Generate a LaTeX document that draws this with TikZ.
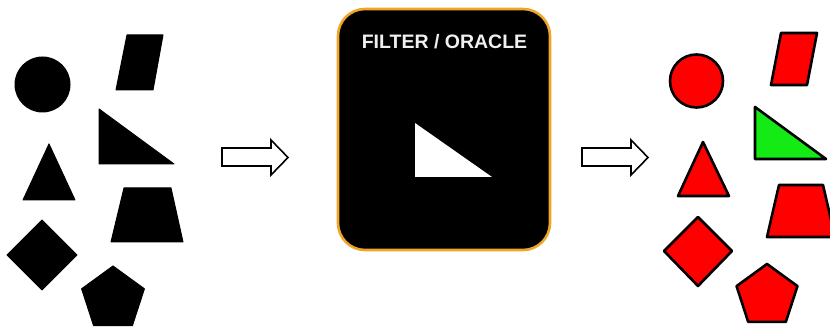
\documentclass[tikz,border=0pt]{standalone}
\usepackage{fontspec}
\setmainfont{Liberation Sans}
\definecolor{boxorange}{RGB}{240,165,40}
\definecolor{shapered}{RGB}{255,0,0}
\definecolor{shapegreen}{RGB}{20,235,20}
\begin{document}
\begin{tikzpicture}[x=1pt,y=-1pt,
  blackshape/.style={fill=black,draw=black,line width=1pt,line join=round},
  redshape/.style={fill=shapered,draw=black,line width=2.6pt,line join=round},
  greenshape/.style={fill=shapegreen,draw=black,line width=2.6pt,line join=round},
  blockarrow/.style={fill=white,draw=black,line width=1.6pt,line join=miter}]
\useasboundingbox (0,0) rectangle (830,328);
\clip (0,0) rectangle (830,328);
% ---------- left panel ----------
\fill[black] (42.5,84.5) circle (28);
\draw[blackshape] (127,35) -- (163,35) -- (153,90) -- (116,90) -- cycle;
\draw[blackshape] (99,109) -- (99,164) -- (174,164) -- cycle;
\draw[blackshape] (49,144) -- (75,200) -- (23,200) -- cycle;
\draw[blackshape] (124,188) -- (171,188) -- (183,242) -- (111,242) -- cycle;
\draw[blackshape] (42,220) -- (77,255) -- (42,290) -- (7,255) -- cycle;
\draw[blackshape] (113,299) +(-90:33) -- +(-18:33) -- +(54:33) -- +(126:33) -- +(198:33) -- cycle;
% ---------- arrows ----------
\draw[blockarrow] (222,148) -- (271,148) -- (271,140) -- (288,157.5) -- (271,175) -- (271,166) -- (222,166) -- cycle;
\draw[blockarrow] (582,148) -- (631,148) -- (631,140) -- (648,157.5) -- (631,175) -- (631,166) -- (582,166) -- cycle;
% ---------- filter box ----------
\draw[fill=black,draw=boxorange,line width=2.6pt,rounded corners=27pt] (338,9) rectangle (550,250);
\node[text=white!94!black,font=\bfseries\fontsize{19.5}{22}\selectfont,anchor=center] (title) at (444.5,42) {FILTER / ORACLE};
\fill[white] (415,123) -- (415,177) -- (492,177) -- cycle;
% ---------- right panel ----------
\draw[redshape] (696.5,81) circle (26.5);
\draw[redshape] (781,33) -- (817,33) -- (807,85) -- (771,85) -- cycle;
\draw[greenshape] (755,107) -- (755,159) -- (826,159) -- cycle;
\draw[redshape] (703,142) -- (729,196) -- (678,196) -- cycle;
\draw[redshape] (779,185) -- (823,185) -- (835,237) -- (767,237) -- cycle;
\draw[redshape] (698,217) -- (732,251) -- (698,286) -- (664,251) -- cycle;
\draw[redshape] (767,296) +(-90:32) -- +(-18:32) -- +(54:32) -- +(126:32) -- +(198:32) -- cycle;
\end{tikzpicture}
\end{document}
